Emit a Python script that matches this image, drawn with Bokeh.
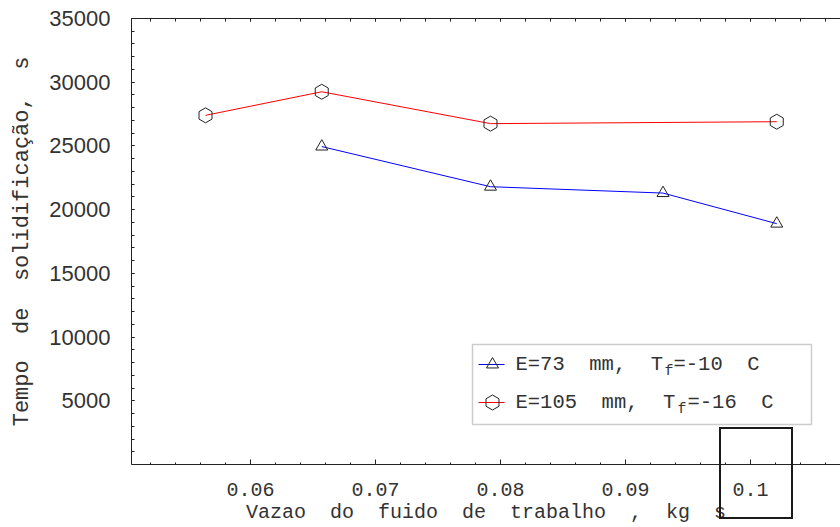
import numpy as np
from bokeh.plotting import figure
from bokeh.models import Range1d, FixedTicker, LinearAxis, BoxAnnotation, Div
from bokeh.core.properties import value
from bokeh.embed import file_html
from bokeh.resources import INLINE

# ---------------- data ----------------
x_red = [0.0564, 0.0657, 0.0792, 0.1021]
y_red = [27400, 29250, 26750, 26900]
x_blue = [0.0657, 0.0792, 0.0930, 0.1021]
y_blue = [24950, 21800, 21300, 18900]

NB = "\u00a0"
label_blue = ["E=73" + NB * 2 + "mm," + NB * 2 + "T", "f", "=-10" + NB * 2 + "C"]
label_red = ["E=105" + NB * 2 + "mm," + NB * 2 + "T", "f", "=-16" + NB * 2 + "C"]

x_tick_values = [0.06, 0.07, 0.08, 0.09, 0.1]
x_tick_labels = ["0.06", "0.07", "0.08", "0.09", "0.1"]
y_tick_values = [5000, 10000, 15000, 20000, 25000, 30000, 35000]
y_tick_labels = ["5000", "10000", "15000", "20000", "25000", "30000", "35000"]

x_title = (NB * 2).join(["Vazao", "do", "fuido", "de", "trabalho", ",", "kg", "s"])
y_title = (NB * 2).join(["Tempo", "de", "solidificação,", "s"])

# ---------------- layout ----------------
W, H = 840, 527
BL, BR, BT, BB = 131, 0, 18, 63
X_START, X_END = 0.05048, 0.10720
Y_START, Y_END = 0, 35000

FL, FR, FT, FB = BL, W - BR, BT, H - BB


def px2x(px):
    return X_START + (px - FL) / (FR - FL) * (X_END - X_START)


def py2y(py):
    return Y_START + (FB - py) / (FB - FT) * (Y_END - Y_START)


p = figure(width=W, height=H, output_backend="svg", toolbar_location=None,
           x_range=Range1d(X_START, X_END), y_range=Range1d(Y_START, Y_END),
           min_border_left=BL, min_border_right=BR, min_border_top=BT,
           min_border_bottom=BB)
p.grid.visible = False
p.outline_line_color = None
p.background_fill_color = "white"
p.border_fill_color = "white"

AX = "#222222"
TXT = "#333333"
MONO = "Liberation Mono"

xminor = list(np.round(np.arange(0.052, 0.1072, 0.002), 4))
yminor = list(range(1000, 35001, 1000))
xticker = FixedTicker(ticks=x_tick_values, minor_ticks=xminor)
yticker = FixedTicker(ticks=y_tick_values, minor_ticks=yminor)

xa = p.xaxis[0]
xa.ticker = xticker
xa.major_label_overrides = dict(zip(x_tick_values, x_tick_labels))
xa.axis_label = x_title
xa.axis_line_color = AX
xa.major_tick_line_color = AX
xa.minor_tick_line_color = AX
xa.major_tick_in = 5
xa.major_tick_out = 0
xa.minor_tick_in = 2
xa.minor_tick_out = 0
xa.major_label_text_font = MONO
xa.major_label_text_font_size = "20px"
xa.major_label_text_color = TXT
xa.major_label_standoff = 18
xa.axis_label_text_font = MONO
xa.axis_label_text_font_size = "20px"
xa.axis_label_text_font_style = "normal"
xa.axis_label_text_color = TXT
xa.axis_label_standoff = 2

ya = p.yaxis[0]
ya.ticker = yticker
ya.major_label_overrides = dict(zip(y_tick_values, y_tick_labels))
ya.axis_label = y_title
ya.axis_line_color = AX
ya.major_tick_line_color = AX
ya.minor_tick_line_color = AX
ya.major_tick_in = 3
ya.major_tick_out = 0
ya.minor_tick_in = 3
ya.minor_tick_out = 0
ya.major_label_text_font = "Liberation Sans"
ya.major_label_text_font_size = "22px"
ya.major_label_text_color = TXT
ya.major_label_standoff = 21
ya.axis_label_text_font = MONO
ya.axis_label_text_font_size = "22px"
ya.axis_label_text_font_style = "normal"
ya.axis_label_text_color = TXT
ya.axis_label_standoff = 11

top = LinearAxis(ticker=xticker, axis_line_color=AX, major_tick_line_color=AX,
                 minor_tick_line_color=AX, major_tick_in=3, major_tick_out=0,
                 minor_tick_in=3, minor_tick_out=0,
                 major_label_text_font_size="0px", major_label_standoff=0,
                 major_label_text_color=None)
p.add_layout(top, "above")

# ---------------- series ----------------
p.line(x_red, y_red, line_color="#ff0000", line_width=1)
p.line(x_blue, y_blue, line_color="#0000ff", line_width=1)
p.scatter(x_red, y_red, marker="hex", size=15, angle=np.pi / 2,
          fill_color=None, line_color=AX, line_width=1)
p.scatter(x_blue, y_blue, marker="triangle", size=12,
          fill_color=None, line_color=AX, line_width=1)

# ---------------- legend (manual, for the subscript) ----------------
p.add_layout(BoxAnnotation(left=px2x(472), right=px2x(811), top=py2y(344), bottom=py2y(424),
                           fill_color="white", fill_alpha=1.0,
                           line_color="#555555", line_width=1.5, level="underlay"))

LFS = "20.5px"
rows = [(364, "#0000ff", "triangle", 12, 0.0, label_blue, 664, 673),
        (402, "#ff0000", "hex", 15, np.pi / 2, label_red, 677, 687)]
for ry, col, mk, sz, ang, lab, fx, rx in rows:
    p.line([px2x(478), px2x(504)], [py2y(ry), py2y(ry)], line_color=col, line_width=1)
    p.scatter([px2x(492)], [py2y(ry)], marker=mk, size=sz, angle=ang, fill_color=None,
              line_color=AX, line_width=1)
    p.text(x=[px2x(515)], y=[py2y(ry)], text=[lab[0]], text_font=value(MONO),
           text_font_size=LFS, text_baseline="middle", text_align="left",
           text_color=TXT)
    p.text(x=[px2x(fx)], y=[py2y(ry + 7)], text=[lab[1]], text_font=value(MONO),
           text_font_size="15px", text_baseline="middle", text_align="left",
           text_color=TXT)
    p.text(x=[px2x(rx)], y=[py2y(ry)], text=[lab[2]], text_font=value(MONO),
           text_font_size=LFS, text_baseline="middle", text_align="left",
           text_color=TXT)

# stray rectangle around the last tick label (crosses the frame edge, so drawn as an overlay element)
stray = Div(text="", width=74, height=92,
            styles={"position": "absolute", "left": "719px", "top": "427px",
                    "width": "74px", "height": "92px", "box-sizing": "border-box",
                    "border": "2.5px solid #1a1a1a", "pointer-events": "none",
                    "z-index": "10", "background": "transparent"})
p.elements = [stray]

open("out.html", "w").write(file_html(p, INLINE))
